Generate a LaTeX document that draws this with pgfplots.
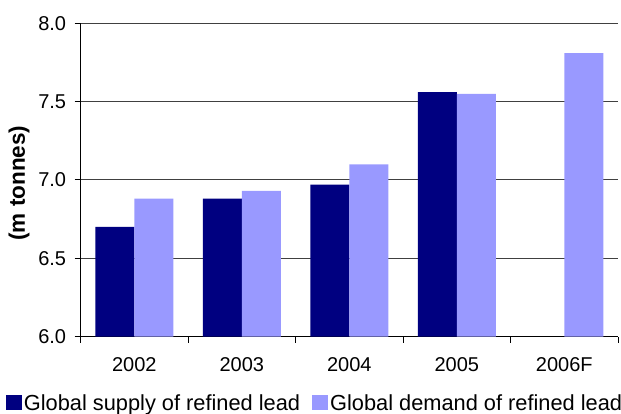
\documentclass[border=0pt]{standalone}
\usepackage{fontspec}
\setmainfont{Liberation Sans}
\usepackage{pgfplots}
\pgfplotsset{compat=1.18}
\definecolor{supply}{HTML}{000080}
\definecolor{demand}{HTML}{9999FF}
\begin{document}
\begin{tikzpicture}
\useasboundingbox (-80.6pt,-77.4pt) rectangle (540.5pt,336.6pt);
\begin{axis}[
  at={(0,0)}, anchor=south west,
  scale only axis,
  width=537.5pt, height=313.3pt,
  xmin=-0.5, xmax=4.5,
  ymin=6, ymax=8,
  ytick={6,6.5,7,7.5,8},
  yticklabel style={/pgf/number format/fixed,/pgf/number format/fixed zerofill,/pgf/number format/precision=1, xshift=-5pt},
  /pgf/number format/assume math mode=true,
  xtick={-0.5,0.5,1.5,2.5,3.5,4.5},
  x tick label as interval=true,
  xticklabels={2002,2003,2004,2005,2006F},
  axis x line*=bottom,
  axis y line*=left,
  axis line style={line width=1pt, black},
  tick align=outside,
  major tick length=6pt,
  tick style={line width=1pt, black},
  ymajorgrids,
  grid style={line width=0.9pt, black!75},
  tick label style={font=\fontsize{20}{24}\selectfont},
  xticklabel style={yshift=-11pt},
  ylabel={(m tonnes)},
  ylabel style={font=\fontsize{22.5}{26}\selectfont\bfseries, at={(axis description cs:-0.1146,0.49)}, anchor=center},
  legend style={at={(axis description cs:-0.139,-0.212)}, anchor=west, draw=none, fill=none,
    inner sep=0pt, outer sep=0pt, font=\fontsize{21.8}{24}\selectfont,
    legend columns=2, /tikz/every even column/.append style={column sep=10pt}},
  legend cell align=left,
  legend image code/.code={\fill[#1] (0pt,-7pt) rectangle (16pt,8pt);},
  clip=true,
]
\addplot[ybar, bar width=39pt, bar shift=-19.5pt, fill=supply, draw=none]
  coordinates {(0,6.70) (1,6.88) (2,6.97) (3,7.56)};
\addlegendentry{Global supply of refined lead}
\addplot[ybar, bar width=39pt, bar shift=19.5pt, fill=demand, draw=none]
  coordinates {(0,6.88) (1,6.93) (2,7.10) (3,7.55) (4,7.81)};
\addlegendentry{Global demand of refined lead}
\end{axis}
\end{tikzpicture}
\end{document}
